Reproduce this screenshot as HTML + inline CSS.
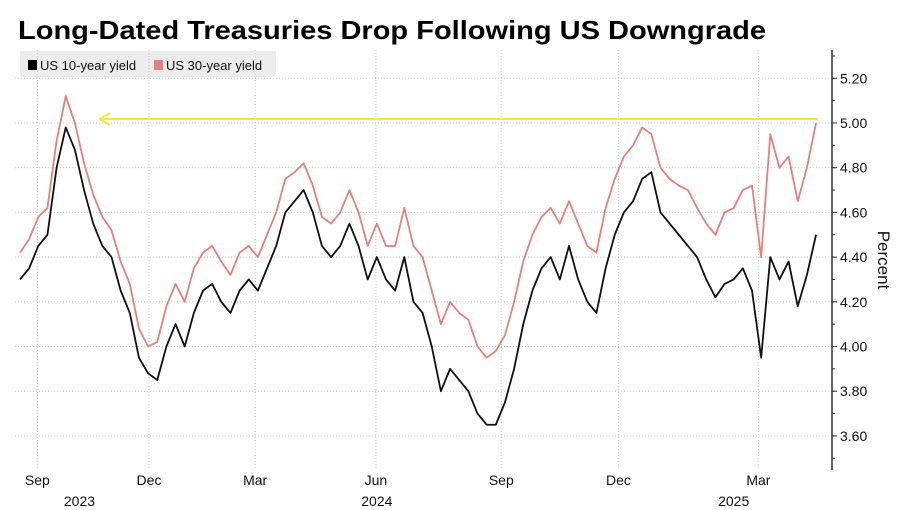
<!DOCTYPE html>
<html><head><meta charset="utf-8"><style>
body{margin:0;background:#fff;font-family:"Liberation Sans","DejaVu Sans",sans-serif;}
#wrap{position:relative;width:900px;height:510px;overflow:hidden;}
</style></head><body>
<div id="wrap">
<svg id="svg" width="900" height="510">
<text x="18" y="39" font-size="26" font-weight="bold" fill="#000" textLength="748" lengthAdjust="spacingAndGlyphs" font-family="Liberation Sans, sans-serif">Long-Dated Treasuries Drop Following US Downgrade</text>
<rect x="20" y="51" width="256" height="26" fill="#ececec"/>
<rect x="28" y="60" width="9" height="10" fill="#000"/>
<text x="40" y="70" font-size="13" fill="#111">US 10-year yield</text>
<rect x="154" y="60" width="9" height="10" fill="#e8807a"/>
<text x="166" y="70" font-size="13" fill="#111">US 30-year yield</text>
<g id="grid"></g><g id="axis"></g><g id="series"></g>
<line x1="100" y1="119" x2="818" y2="119" stroke="#f0ea40" stroke-width="2"/>
<polyline points="110,113 100,119 110,125" fill="none" stroke="#f0ea40" stroke-width="2"/>
<text x="878" y="260" font-size="17" fill="#111" transform="rotate(90 878 260)" text-anchor="middle">Percent</text>
</svg></div>
<script>
const yTicks=[3.60,3.80,4.00,4.20,4.40,4.60,4.80,5.00,5.20];
const monthLabels=["Sep","Dec","Mar","Jun","Sep","Dec","Mar"];
const monthWeeks=[1.9,14.1,25.7,38.9,52.6,65.4,80.7];
const yearLabels=["2023","2024","2025"];
const yearWeeks=[6.5,39,78];
const us10=[4.30,4.35,4.45,4.50,4.80,4.98,4.88,4.70,4.55,4.45,4.40,4.25,4.15,3.95,3.88,3.85,4.00,4.10,4.00,4.15,4.25,4.28,4.20,4.15,4.25,4.30,4.25,4.35,4.45,4.60,4.65,4.70,4.60,4.45,4.40,4.45,4.55,4.45,4.30,4.40,4.30,4.25,4.40,4.20,4.15,4.00,3.80,3.90,3.85,3.80,3.70,3.65,3.65,3.75,3.90,4.10,4.25,4.35,4.40,4.30,4.45,4.30,4.20,4.15,4.35,4.50,4.60,4.65,4.75,4.78,4.60,4.55,4.50,4.45,4.40,4.30,4.22,4.28,4.30,4.35,4.25,3.95,4.40,4.30,4.38,4.18,4.32,4.50];
const us30=[4.42,4.48,4.58,4.62,4.92,5.12,5.00,4.82,4.68,4.58,4.52,4.38,4.28,4.08,4.00,4.02,4.18,4.28,4.20,4.35,4.42,4.45,4.38,4.32,4.42,4.45,4.40,4.50,4.60,4.75,4.78,4.82,4.72,4.58,4.55,4.60,4.70,4.60,4.45,4.55,4.45,4.45,4.62,4.45,4.40,4.25,4.10,4.20,4.15,4.12,4.00,3.95,3.98,4.05,4.20,4.38,4.50,4.58,4.62,4.55,4.65,4.55,4.45,4.42,4.62,4.75,4.85,4.90,4.98,4.95,4.80,4.75,4.72,4.70,4.62,4.55,4.50,4.60,4.62,4.70,4.72,4.40,4.95,4.80,4.85,4.65,4.80,5.00];
const NS="http://www.w3.org/2000/svg";
const xS=i=>20+i*9.15;
const yS=v=>123+(5-v)*223.5;
function mk(tag,attrs,parent){const e=document.createElementNS(NS,tag);for(const k in attrs)e.setAttribute(k,attrs[k]);parent.appendChild(e);return e;}
const grid=document.getElementById('grid'),axis=document.getElementById('axis'),ser=document.getElementById('series');
yTicks.forEach(t=>{
 const g=mk('line',{x1:15,x2:832,y1:yS(t),y2:yS(t),stroke:'#ccc','stroke-dasharray':'1,2'},grid);
 
 
 const tk=mk('line',{x1:832,x2:837,y1:yS(t),y2:yS(t),stroke:'#333'},axis);
 
 
 const tx=mk('text',{x:840,y:yS(t)+5,'font-size':14,fill:'#111'},axis);
 tx.textContent=t.toFixed(2);
 
 
});
for(let v=3.5;v<5.31;v+=0.1){const m=mk('line',{x1:832,x2:835,y1:yS(v),y2:yS(v),stroke:'#333'},axis);
 
 }
const ax=mk('line',{x1:832,x2:832,y1:50,y2:470,stroke:'#333','stroke-width':1.5},axis);


monthLabels.forEach((m,i)=>{
 const x=xS(monthWeeks[i]);
 const g=mk('line',{x1:x,x2:x,y1:50,y2:470,stroke:'#ccc','stroke-dasharray':'1,2'},grid);
 
 
 const t=mk('text',{x:x,y:485,'font-size':14,fill:'#111','text-anchor':'middle'},axis);
 t.textContent=m;
 
 
});
yearLabels.forEach((yv,i)=>{
 const t=mk('text',{x:xS(yearWeeks[i]),y:506,'font-size':14,fill:'#111','text-anchor':'middle'},axis);
 t.textContent=yv;
 
 
});
function line(arr,color,name){
 const p=mk('polyline',{points:arr.map((v,i)=>xS(i)+','+yS(v)).join(' '),fill:'none',stroke:color,'stroke-width':1.8,'stroke-linejoin':'round'},ser);
 
 
}
line(us30,'#e8807a','series-us30');
line(us10,'#111','series-us10');
</script>
</body></html>
